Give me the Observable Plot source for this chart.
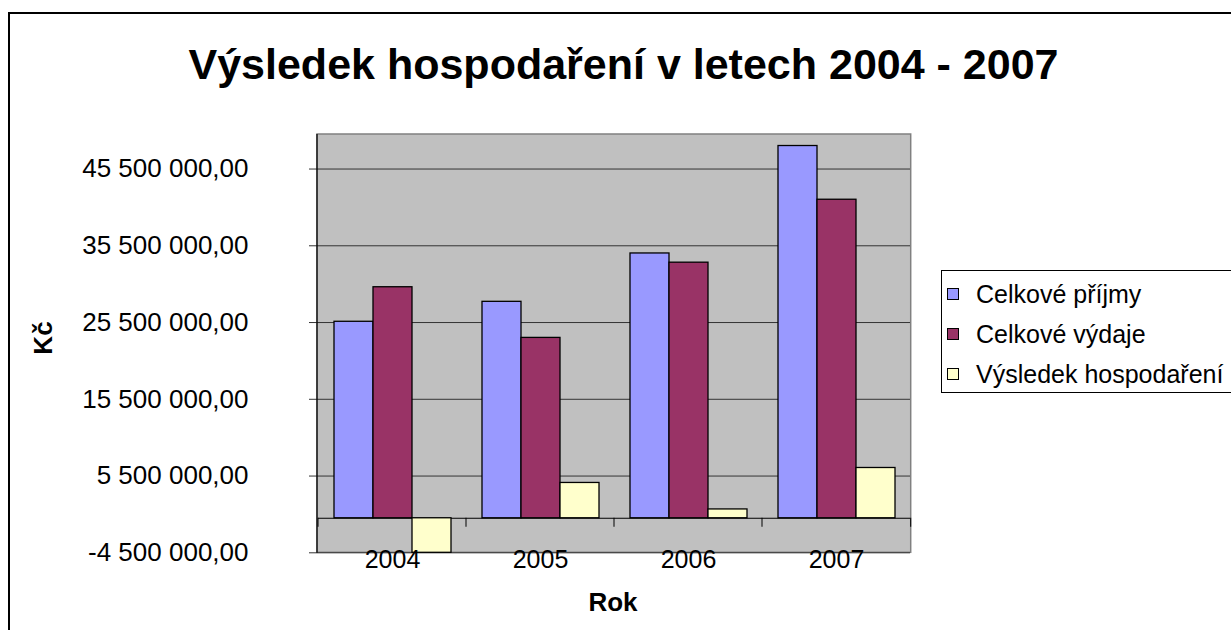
<!DOCTYPE html>
<html>
<head>
<meta charset="utf-8">
<script src="https://cdn.jsdelivr.net/npm/d3@7"></script>
<script src="https://cdn.jsdelivr.net/npm/@observablehq/plot@0.6"></script>
<style>
  html, body { margin: 0; padding: 0; background: #fff; }
  #wrap { position: relative; width: 1231px; height: 630px; overflow: hidden; font-family: "Liberation Sans", Arial, sans-serif; color: #000; }
  #outer { position: absolute; left: 8px; top: 12px; width: 1400px; height: 800px; border: 2px solid #000; box-sizing: border-box; }
  #chart { position: absolute; left: 0; top: 0; }
  #title { position: absolute; left: 623.5px; top: 42.6px; transform: translateX(-50%); white-space: nowrap; font-weight: bold; font-size: 43px; line-height: 43px; }
  #ylab { position: absolute; left: 43px; top: 338px; transform: translate(-50%, -50%) rotate(-90deg); font-weight: bold; font-size: 26px; line-height: 26px; white-space: nowrap; }
  #xlab { position: absolute; left: 613px; top: 589px; transform: translateX(-50%); font-weight: bold; font-size: 26px; line-height: 26px; white-space: nowrap; }
  #legend { position: absolute; left: 941px; top: 270px; width: 400px; height: 123px; border: 1.5px solid #000; box-sizing: border-box; background: #fff; }
  .item { position: absolute; left: 5px; height: 25px; font-size: 25px; line-height: 25px; white-space: nowrap; }
  .sw { position: absolute; left: 0; top: 6px; width: 12px; height: 12px; border: 1.3px solid #000; box-sizing: border-box; }
  .lt { position: absolute; left: 29px; top: 0; }
</style>
</head>
<body>
<div id="wrap">
  <div id="outer"></div>
  <div id="chart"></div>
  <div id="title"></div>
  <div id="ylab"></div>
  <div id="xlab"></div>
  <div id="legend"></div>
</div>
<script>
// ---- data ----
const years = ["2004", "2005", "2006", "2007"];
const series = ["Celkové příjmy", "Celkové výdaje", "Výsledek hospodaření"];
const prijmy = [25.6e6, 28.2e6, 34.5e6, 48.5e6];
const vydaje = [30.1e6, 23.5e6, 33.3e6, 41.5e6];
const vysledek = [-4.5e6, 4.6e6, 1.15e6, 6.55e6];
const yTicks = [-4.5e6, 5.5e6, 15.5e6, 25.5e6, 35.5e6, 45.5e6];
const yDomain = [-4.5e6, 50e6];
const colors = ["#9999FF", "#993366", "#FFFFCC"];
const titleText = "Výsledek hospodaření v letech 2004 - 2007";
const yLabel = "Kč";
const xLabel = "Rok";

const valuesBySeries = [prijmy, vydaje, vysledek];
const table = years.flatMap((yr, i) => series.map((s, j) => ({year: yr, series: s, value: valuesBySeries[j][i]})));

const loc = d3.formatLocale({decimal: ",", thousands: "\u00a0", grouping: [3], currency: ["", ""], minus: "-"});
const fmt = loc.format(",.2f");

const plot = Plot.plot({
  width: 1231,
  height: 630,
  marginLeft: 317,
  marginRight: 320.3,
  marginTop: 134,
  marginBottom: 77.7,
  style: {fontFamily: "'Liberation Sans', Arial, sans-serif", background: "transparent", color: "#000", overflow: "visible"},
  fx: {domain: years, padding: 0, label: null},
  x: {domain: series, paddingInner: 0, paddingOuter: 0.375, axis: null},
  y: {domain: yDomain, label: null},
  color: {domain: series, range: colors},
  marks: [
    Plot.gridY(yTicks, {stroke: "#333", strokeOpacity: 1, strokeWidth: 1}),
    Plot.ruleY([0], {stroke: "#000", strokeWidth: 1}),
    Plot.barY(table, {fx: "year", x: "series", y: "value", fill: "series", stroke: "#000", strokeWidth: 1.3}),
    Plot.axisY(yTicks, {tickFormat: fmt, tickSize: 9, tickPadding: 61, fontSize: 26, label: null, stroke: "#333"}),
    Plot.axisFx({anchor: "bottom", tickSize: 0, tickPadding: -3, fontSize: 25, label: null})
  ]
});

// plot-area background, border, axis line and category ticks from the plot's own scales
const svg = d3.select(plot);
const fx = plot.scale("fx");
const ys = plot.scale("y");
const L = fx.range[0], R = fx.range[1];
const B = ys.range[0], T = ys.range[1];
svg.insert("rect", "g").attr("x", L).attr("y", T).attr("width", R - L).attr("height", B - T).attr("fill", "#C0C0C0");
svg.insert("rect", "g").attr("x", L).attr("y", T).attr("width", R - L).attr("height", B - T)
  .attr("fill", "none").attr("stroke", "#808080").attr("stroke-width", 1.5);
svg.append("line").attr("x1", L).attr("x2", L).attr("y1", T).attr("y2", B + 0.5).attr("stroke", "#000").attr("stroke-width", 1.2);
const y0 = ys.apply(0);
const edges = years.map(yr => fx.apply(yr)).concat([R]);
for (const e of edges) {
  svg.append("line").attr("x1", e).attr("x2", e).attr("y1", y0).attr("y2", y0 + 9).attr("stroke", "#000").attr("stroke-width", 1);
}

document.getElementById("chart").appendChild(plot);
document.getElementById("title").textContent = titleText;
document.getElementById("ylab").textContent = yLabel;
document.getElementById("xlab").textContent = xLabel;

const legend = d3.select("#legend");
series.forEach((s, i) => {
  const it = legend.append("div").attr("class", "item").style("top", (10.5 + i * 40) + "px");
  it.append("div").attr("class", "sw").style("background", colors[i]);
  it.append("div").attr("class", "lt").text(s);
});
</script>
</body>
</html>
